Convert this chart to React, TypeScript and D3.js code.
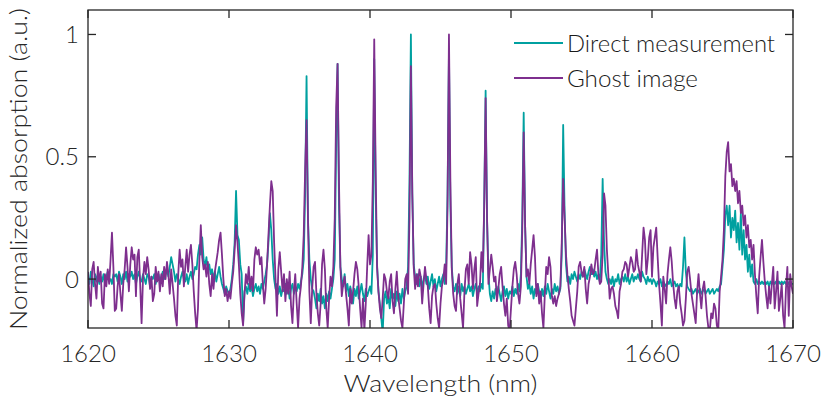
import React from "react";
import * as d3 from "d3";

const W = 824;
const H = 407;

// Wavelength grid: 1620 nm to 1670 nm sampled every 0.1 nm
const wlStart = 1620;
const wlStep = 0.1;

const xTicks = [1620, 1630, 1640, 1650, 1660, 1670];
const yTicks = [0, 0.5, 1];
const yTickLabels = ["0", "0.5", "1"];

const seriesNames = ["Direct measurement", "Ghost image"];
const seriesColors = ["#00a0a0", "#7e2f8e"];

// Direct measurement (teal), 0.1 nm steps
const direct = [
  0.01,-0.02,0.03,0.00,-0.03,0.02,-0.01,0.02,-0.02,0.01,
  -0.01,0.02,-0.02,0.01,0.03,-0.01,0.00,-0.02,0.02,0.01,
  0.02,-0.01,0.03,0.01,-0.02,0.02,0.00,0.03,-0.01,0.02,
  0.01,0.03,0.00,0.02,-0.02,0.01,0.03,0.00,-0.01,0.02,
  0.00,-0.02,0.02,0.01,-0.03,0.01,0.00,0.02,-0.02,0.01,
  0.02,-0.01,0.01,0.03,0.00,0.02,0.04,0.01,0.05,0.09,
  0.06,0.03,-0.01,0.02,0.00,-0.02,0.01,0.03,0.00,-0.01,
  0.02,-0.02,0.01,0.03,0.00,0.02,0.05,0.04,0.10,0.14,
  0.10,0.17,0.08,0.05,0.09,0.03,0.06,0.02,0.04,0.00,
  0.03,-0.01,0.02,0.05,0.01,-0.02,-0.04,-0.06,-0.03,-0.05,
  -0.06,-0.04,0.00,0.06,0.15,0.36,0.18,0.16,0.06,0.02,
  -0.18,-0.05,-0.03,-0.06,-0.02,-0.05,-0.03,-0.07,-0.04,-0.02,
  -0.05,-0.03,-0.06,-0.02,-0.04,-0.01,0.02,0.06,0.15,0.27,
  0.20,0.08,0.00,-0.04,-0.02,-0.06,-0.03,-0.07,-0.04,-0.05,
  -0.02,-0.06,-0.03,-0.08,-0.04,-0.02,-0.06,-0.03,-0.05,-0.02,
  -0.04,-0.01,0.02,0.08,0.35,0.83,0.25,0.08,0.00,-0.04,
  -0.05,-0.08,-0.12,-0.06,-0.09,-0.04,-0.10,-0.07,-0.12,-0.06,
  -0.09,-0.05,-0.08,-0.04,0.00,0.08,0.55,0.88,0.30,0.05,
  0.00,-0.03,0.02,-0.05,-0.02,-0.07,-0.03,-0.06,-0.10,-0.04,
  -0.07,-0.03,-0.08,-0.05,-0.02,-0.06,-0.09,-0.04,-0.07,-0.05,
  -0.03,-0.06,0.10,0.90,0.35,0.06,-0.05,-0.10,-0.16,-0.22,
  -0.08,-0.05,-0.10,-0.07,-0.12,-0.04,-0.08,-0.06,-0.11,-0.05,
  -0.09,-0.06,-0.10,-0.04,-0.08,-0.05,-0.03,0.05,0.40,1.00,
  0.35,0.06,0.01,-0.02,0.02,-0.03,0.01,-0.04,0.00,0.02,
  -0.02,0.01,-0.04,-0.01,0.02,-0.03,0.00,-0.05,-0.02,0.01,
  -0.03,0.00,0.02,-0.02,0.05,0.35,0.93,0.30,0.05,-0.03,
  -0.05,-0.02,-0.06,-0.03,-0.07,-0.02,-0.05,-0.03,-0.06,-0.04,
  -0.02,-0.05,-0.03,-0.07,-0.04,-0.02,-0.06,-0.03,-0.05,-0.02,
  -0.04,0.30,0.77,0.25,0.02,-0.06,-0.09,-0.05,-0.08,-0.04,
  -0.07,-0.03,-0.06,-0.09,-0.05,-0.03,-0.07,-0.04,-0.08,-0.05,
  -0.06,-0.03,-0.07,-0.04,-0.06,-0.02,-0.05,0.02,0.25,0.68,
  0.22,0.01,-0.04,-0.02,-0.06,-0.03,-0.08,-0.04,-0.06,-0.02,
  -0.05,-0.09,-0.04,-0.07,-0.03,-0.06,-0.02,-0.05,-0.08,-0.04,
  -0.06,-0.02,-0.05,-0.03,-0.06,-0.04,0.10,0.63,0.28,0.06,
  -0.01,0.01,-0.02,0.02,0.00,0.03,0.01,-0.01,0.02,0.00,
  0.03,0.01,0.04,0.02,0.00,0.03,0.05,0.02,0.04,0.01,
  0.03,0.00,0.02,-0.01,0.10,0.41,0.15,0.03,0.00,-0.02,
  0.00,-0.02,0.01,-0.03,0.00,-0.01,0.02,-0.02,0.00,0.01,
  -0.01,0.02,-0.01,0.01,-0.02,0.00,0.02,-0.01,0.01,0.00,
  0.02,0.00,-0.01,0.03,0.01,0.00,-0.02,0.01,-0.01,0.00,
  -0.02,0.00,-0.01,-0.03,-0.01,-0.02,0.00,-0.03,-0.01,-0.02,
  -0.03,-0.01,-0.02,0.00,-0.03,-0.02,-0.01,-0.03,-0.02,-0.04,
  -0.02,-0.03,0.05,0.17,0.03,-0.03,-0.04,-0.05,-0.04,-0.06,
  -0.05,-0.04,-0.06,-0.05,-0.04,-0.06,-0.05,-0.04,-0.06,-0.05,
  -0.04,-0.06,-0.05,-0.04,-0.06,-0.05,-0.04,-0.05,-0.03,-0.02,
  0.05,0.12,0.26,0.30,0.22,0.30,0.17,0.25,0.20,0.28,
  0.15,0.23,0.12,0.27,0.10,0.20,0.08,0.14,0.03,0.10,
  0.01,0.06,-0.01,-0.02,0.00,-0.02,-0.01,-0.02,-0.01,-0.02,
  -0.01,-0.02,-0.01,-0.03,-0.01,-0.02,-0.01,-0.02,-0.01,-0.02,
  -0.01,-0.02,-0.01,-0.02,-0.01,-0.02,-0.01,-0.02,-0.01,-0.02,
  -0.02,
];

// Ghost image (purple), 0.1 nm steps
const ghost = [
  0.03,-0.06,-0.11,0.04,0.07,-0.02,-0.08,0.05,-0.01,0.03,
  -0.10,-0.12,0.02,-0.03,0.04,-0.02,0.08,0.19,0.05,-0.13,
  -0.12,-0.03,0.02,-0.06,-0.13,-0.02,0.04,0.13,0.05,-0.05,
  0.06,0.13,0.08,0.10,-0.07,0.09,0.12,-0.02,-0.18,0.00,
  0.07,0.02,0.09,0.04,-0.04,0.01,-0.09,-0.06,0.05,-0.01,
  0.03,-0.05,0.02,-0.03,0.05,0.00,0.07,0.02,-0.06,0.04,
  -0.02,-0.08,-0.15,-0.19,0.02,0.12,0.05,0.08,-0.03,0.05,
  0.12,0.03,0.10,0.14,0.06,-0.05,-0.14,-0.21,-0.12,0.08,
  0.22,0.09,0.04,0.06,0.01,0.07,-0.02,-0.07,0.02,-0.04,
  0.03,0.07,0.11,0.16,0.19,0.10,0.00,-0.07,-0.04,-0.09,
  -0.05,-0.08,-0.02,0.03,0.12,0.22,0.15,0.06,-0.06,-0.14,
  -0.19,-0.06,0.02,-0.02,0.05,-0.04,0.01,-0.05,0.08,0.13,
  0.10,0.12,0.06,0.09,-0.02,-0.10,-0.04,0.06,0.18,0.30,
  0.40,0.36,0.15,0.00,-0.15,0.04,0.11,0.03,-0.05,0.02,
  -0.09,0.00,-0.06,0.03,-0.11,-0.18,-0.05,0.02,-0.10,-0.20,
  -0.08,-0.03,0.05,0.18,0.45,0.65,0.25,-0.05,-0.18,-0.04,
  0.05,0.07,-0.06,-0.14,-0.19,-0.10,0.06,0.12,0.04,-0.12,
  -0.20,-0.08,0.01,-0.03,0.05,0.25,0.70,0.88,0.40,0.05,
  -0.07,-0.02,0.01,-0.06,-0.12,-0.19,-0.04,-0.10,-0.05,0.02,
  0.07,0.04,-0.03,-0.12,-0.20,-0.08,-0.21,-0.10,0.05,0.18,
  0.06,0.10,0.40,0.98,0.45,0.05,-0.05,-0.12,-0.16,-0.08,
  0.02,0.00,-0.05,-0.08,-0.01,0.02,-0.09,-0.14,-0.04,0.03,
  -0.07,-0.12,-0.17,-0.20,-0.10,0.00,0.02,-0.06,0.25,0.87,
  0.35,0.05,-0.04,0.02,-0.03,0.04,0.01,-0.10,-0.02,0.05,
  0.00,-0.03,-0.12,-0.18,-0.07,-0.03,-0.02,-0.10,-0.16,-0.20,
  -0.10,-0.03,0.00,0.06,-0.02,0.30,1.00,0.40,0.04,-0.06,
  -0.11,-0.13,-0.02,0.02,-0.08,-0.14,-0.20,-0.05,0.04,0.06,
  -0.02,0.11,0.06,-0.04,0.04,0.09,-0.11,-0.06,-0.02,0.11,
  0.03,0.30,0.74,0.25,-0.02,0.04,0.10,0.05,-0.01,0.01,
  -0.09,-0.04,0.02,0.05,-0.03,-0.10,-0.15,-0.08,-0.19,-0.21,
  -0.12,-0.03,0.04,0.07,0.02,-0.06,-0.10,-0.03,0.20,0.60,
  0.22,0.01,0.04,-0.02,0.06,0.12,0.18,0.09,-0.07,-0.02,
  -0.10,-0.05,-0.14,-0.20,-0.06,0.05,0.02,0.09,0.05,-0.07,
  -0.10,-0.07,-0.11,-0.08,-0.06,-0.03,0.15,0.41,0.25,0.10,
  0.02,-0.04,-0.09,-0.15,-0.17,-0.19,-0.12,-0.05,0.05,0.07,
  0.03,0.01,0.05,-0.04,-0.10,-0.02,0.01,0.06,0.02,0.03,
  0.08,0.12,0.02,-0.02,-0.01,0.10,0.35,0.30,0.12,0.02,
  -0.08,-0.04,-0.03,-0.06,-0.11,-0.13,-0.16,-0.05,-0.02,0.03,
  0.04,0.07,0.06,0.01,0.05,0.09,0.07,0.03,0.04,0.12,
  0.06,0.03,-0.01,0.10,0.21,0.16,0.02,0.08,0.17,0.20,
  0.01,0.13,0.17,0.21,0.09,-0.02,-0.10,-0.19,0.01,-0.04,
  -0.10,0.02,0.08,0.13,0.07,-0.02,-0.08,-0.12,-0.05,-0.03,
  -0.10,-0.14,-0.19,-0.17,-0.08,0.03,0.05,0.00,-0.06,-0.10,
  -0.14,-0.18,-0.05,0.02,-0.06,-0.12,-0.04,-0.01,-0.07,-0.15,
  -0.20,-0.21,-0.14,-0.16,-0.10,-0.12,-0.19,-0.21,-0.05,0.01,
  0.08,0.20,0.42,0.52,0.56,0.44,0.47,0.38,0.41,0.36,
  0.40,0.31,0.36,0.27,0.30,0.22,0.26,0.17,0.22,0.13,
  0.16,0.08,0.14,0.02,-0.07,-0.14,0.01,0.09,0.16,0.07,
  -0.01,-0.07,-0.12,-0.03,-0.10,-0.02,0.05,-0.12,-0.05,0.03,
  -0.13,-0.08,-0.02,-0.15,-0.20,-0.04,0.05,-0.15,0.02,-0.03,
  -0.06,
];

const margin = { left: 88, right: 793, top: 10, bottom: 328 };

export default function App() {
  const x = d3.scaleLinear().domain([1620, 1670]).range([margin.left, margin.right]);
  const y = d3.scaleLinear().domain([-0.2, 1.1]).range([margin.bottom, margin.top]);

  const toPoints = (vals: number[]) =>
    vals.map((v, i) => [wlStart + i * wlStep, v] as [number, number]);

  const line = d3
    .line<[number, number]>()
    .x((d) => x(d[0]))
    .y((d) => y(d[1]));

  const series = [direct, ghost];
  const axisColor = "#262626";
  const tickLen = 8;
  const font = "Lato, 'Open Sans', sans-serif";
  const fw = 300;

  return (
    <svg
      width={W}
      height={H}
      style={{ position: "absolute", left: 0, top: 0, background: "#fff" }}
    >
      <defs>
        <clipPath id="plotClip">
          <rect
            x={margin.left}
            y={margin.top}
            width={margin.right - margin.left}
            height={margin.bottom - margin.top}
          />
        </clipPath>
      </defs>
      <g clipPath="url(#plotClip)">
        {series.map((s, i) => (
          <path
            key={i}
            d={line(toPoints(s)) || ""}
            fill="none"
            stroke={seriesColors[i]}
            strokeWidth={1.8}
            strokeLinejoin="round"
          />
        ))}
      </g>
      <rect
        x={margin.left}
        y={margin.top}
        width={margin.right - margin.left}
        height={margin.bottom - margin.top}
        fill="none"
        stroke={axisColor}
        strokeWidth={1.3}
      />
      {xTicks.map((t) => (
        <g key={"x" + t}>
          <line x1={x(t)} x2={x(t)} y1={margin.bottom} y2={margin.bottom - tickLen} stroke={axisColor} strokeWidth={1.3} />
          <line x1={x(t)} x2={x(t)} y1={margin.top} y2={margin.top + tickLen} stroke={axisColor} strokeWidth={1.3} />
          <text
            x={x(t)}
            y={362}
            textAnchor="middle"
            fontFamily={font}
            fontWeight={fw}
            fontSize={24}
            fill="#262626"
          >
            {t}
          </text>
        </g>
      ))}
      {yTicks.map((t, i) => (
        <g key={"y" + t}>
          <line x1={margin.left} x2={margin.left + tickLen} y1={y(t)} y2={y(t)} stroke={axisColor} strokeWidth={1.3} />
          <line x1={margin.right} x2={margin.right - tickLen} y1={y(t)} y2={y(t)} stroke={axisColor} strokeWidth={1.3} />
          <text
            x={79}
            y={y(t) + 8.5}
            textAnchor="end"
            fontFamily={font}
            fontWeight={fw}
            fontSize={24}
            fill="#262626"
          >
            {yTickLabels[i]}
          </text>
        </g>
      ))}
      <text
        x={(margin.left + margin.right) / 2}
        y={392}
        textAnchor="middle"
        fontFamily={font}
        fontWeight={fw}
        fontSize={24}
        fill="#262626"
        textLength={194}
        lengthAdjust="spacingAndGlyphs"
      >
        Wavelength (nm)
      </text>
      <text
        transform={`translate(27,169) rotate(-90)`}
        textAnchor="middle"
        fontFamily={font}
        fontWeight={fw}
        fontSize={23}
        fill="#262626"
        textLength={322}
        lengthAdjust="spacingAndGlyphs"
      >
        Normalized absorption (a.u.)
      </text>
      {seriesNames.map((name, i) => (
        <g key={name}>
          <line
            x1={514}
            x2={563}
            y1={43 + i * 35}
            y2={43 + i * 35}
            stroke={seriesColors[i]}
            strokeWidth={1.8}
          />
          <text
            x={567}
            y={52 + i * 35}
            fontFamily={font}
            fontWeight={fw}
            fontSize={24}
            fill="#1a1a1a"
            textLength={i === 0 ? 208 : 131}
            lengthAdjust="spacingAndGlyphs"
          >
            {name}
          </text>
        </g>
      ))}
    </svg>
  );
}
